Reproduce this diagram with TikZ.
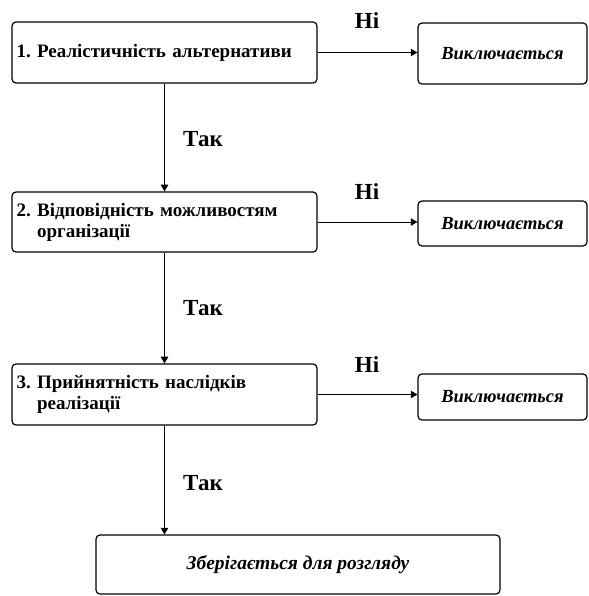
\documentclass[tikz,border=0pt]{standalone}
\usepackage{fontspec}
\setmainfont{Liberation Serif}
\frenchspacing
\usetikzlibrary{arrows,shapes,positioning}

\tikzset{
  stepbox/.style={draw, very thick, rounded corners=4pt, inner sep=3pt,
    font=\fontsize{19}{21}\selectfont\bfseries},
  outbox/.style={draw, very thick, rounded corners=4pt, align=center,
    font=\fontsize{18.5}{20}\selectfont\bfseries\itshape},
  answer/.style={font=\fontsize{23}{25}\selectfont\bfseries}
}

\begin{document}
\begin{tikzpicture}[x=1pt,y=-1pt]
    \useasboundingbox (0,0) rectangle (588,596);
 %the criteria
    \node[stepbox, minimum width=305pt, minimum height=61pt, align=left, text width=296pt] (s1) at (164.5,52.5)
        {1. Реалістичність альтернативи};
    \node[stepbox, minimum width=305pt, minimum height=60pt, align=left, text width=296pt] (s2) at (164.5,222)
        {2. Відповідність можливостям\\\phantom{2. }організації};
    \node[stepbox, minimum width=305pt, minimum height=61pt, align=left, text width=296pt] (s3) at (164.5,394.5)
        {3. Прийнятність наслідків\\\phantom{3. }реалізації};

    %the rejections
    \node[outbox, minimum width=169pt, minimum height=61pt] (r1) at (502.5,53.5) {Виключається};
    \node[outbox, minimum width=169pt, minimum height=45pt] (r2) at (502.5,223.5) {Виключається};
    \node[outbox, minimum width=169pt, minimum height=46pt] (r3) at (502.5,397) {Виключається};

    %the result
    \node[outbox, minimum width=404pt, minimum height=59pt, font=\fontsize{19.5}{21}\selectfont\bfseries\itshape] (keep) at (298,564.5) {Зберігається для розгляду};

    %the arrows
    \begin{scope}[every path/.style={-triangle 60, thick}]
       \draw (s1.south) -- (s2.north);
       \draw (s2.south) -- (s3.north);
       \draw (s3.south) -- (s3.south |- keep.north);
       \draw (s1.east) -- (s1.east -| r1.west);
       \draw (s2.east) -- (s2.east -| r2.west);
       \draw (s3.east) -- (s3.east -| r3.west);
    \end{scope}

    %yes and no
    \node[answer] (n1) at (367,21) {Ні};
    \node[answer] (n2) at (367,192) {Ні};
    \node[answer] (n3) at (367,365) {Ні};
    \node[answer] (t1) at (203,139) {Так};
    \node[answer] (t2) at (203,308) {Так};
    \node[answer] (t3) at (203,483) {Так};
\end{tikzpicture}
\end{document}
